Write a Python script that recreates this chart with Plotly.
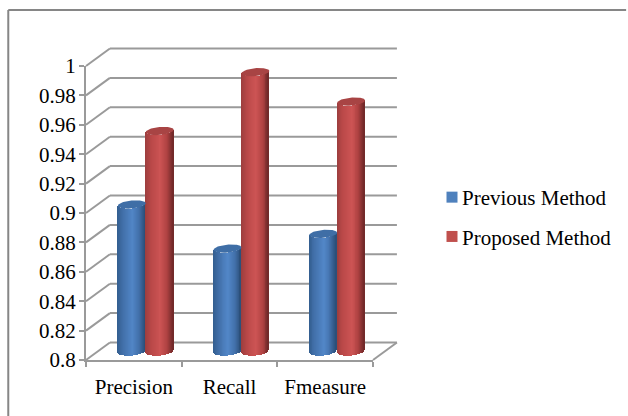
import numpy as np
import plotly.graph_objects as go

categories = ["Precision", "Recall", "Fmeasure"]
previous_method = [0.90, 0.87, 0.88]
proposed_method = [0.95, 0.99, 0.97]
y_ticks = [0.8, 0.82, 0.84, 0.86, 0.88, 0.9, 0.92, 0.94, 0.96, 0.98, 1]
y_labels = ["0.8", "0.82", "0.84", "0.86", "0.88", "0.9", "0.92", "0.94", "0.96", "0.98", "1"]

W, H = 628, 416
L, R, T, B = 86, 374, 66, 360
PX_X = 3 / (R - L)
PX_Y = 0.2 / (B - T)
FONT = "Liberation Serif"
GRID = "#9a9a9a"

depth_x, depth_y = 24 * PX_X, 17.5 * PX_Y
mid_x, mid_y = 0.125, 8.5 * PX_Y
cyl_w = 28 * PX_X
slice_w = 1.5 * PX_X
cap_h = 4 * PX_Y
tilt = 1.2 * PX_Y
n = 29


def shade(stops, t):
    pos = [s[0] for s in stops]
    r = np.interp(t, pos, [s[1][0] for s in stops])
    g = np.interp(t, pos, [s[1][1] for s in stops])
    b = np.interp(t, pos, [s[1][2] for s in stops])
    return f"rgb({r:.0f},{g:.0f},{b:.0f})"


BLUE = [(-1, (52, 95, 145)), (-0.6, (66, 112, 170)), (0.1, (82, 135, 200)), (0.6, (66, 112, 170)), (1, (44, 80, 122))]
RED = [(-1, (158, 62, 62)), (-0.6, (185, 72, 72)), (0.1, (205, 84, 84)), (0.6, (175, 66, 66)), (1, (115, 42, 42))]


def px(x):
    return (x - L) / (R - L)


def py(y):
    return (B - y) / (B - T)


def vx(x):
    return x / 3


def vy(v):
    return (v - y_ticks[0]) / 0.2


fig = go.Figure()

# back wall grid lines, left wall diagonals and floor edge, beneath the cylinders
grid_line = dict(type="line", xref="paper", yref="paper", layer="below", line=dict(color=GRID, width=2))
shapes = []
for v in y_ticks:
    shapes.append(dict(grid_line, x0=vx(0), x1=vx(depth_x), y0=vy(v), y1=vy(v + depth_y)))
    shapes.append(dict(grid_line, x0=vx(depth_x), x1=vx(3 + depth_x), y0=vy(v + depth_y), y1=vy(v + depth_y)))
shapes.append(dict(grid_line, x0=vx(3), x1=vx(3 + depth_x), y0=vy(y_ticks[0]), y1=vy(y_ticks[0] + depth_y)))


def cylinders(values, side, stops, cap_color):
    xs, bases, tops, colors = [], [], [], []
    ts = np.linspace(-1, 1, n)
    for i, v in enumerate(values):
        cx = i + mid_x + 0.5 + side * cyl_w / 2
        for t in ts:
            curve = cap_h * np.sqrt(max(0, 1 - t * t))
            xs.append(cx + t * (cyl_w - slice_w) / 2)
            b = y_ticks[0] + mid_y - curve + t * tilt
            top = v + mid_y - curve + t * tilt
            bases.append(b)
            tops.append(top - b)
            colors.append(shade(stops, t))
    fig.add_trace(go.Bar(
        x=xs, y=tops, base=bases, width=[slice_w] * len(xs),
        marker=dict(color=colors, line=dict(width=0)),
        cliponaxis=False, showlegend=False, hoverinfo="skip"))
    for i, v in enumerate(values):
        cx = i + mid_x + 0.5 + side * cyl_w / 2
        a = np.linspace(0, 2 * np.pi, 60)
        fig.add_trace(go.Scatter(
            x=cx + np.cos(a) * cyl_w / 2,
            y=v + mid_y + np.sin(a) * cap_h + np.cos(a) * tilt,
            mode="lines", fill="toself", fillcolor=cap_color,
            line=dict(width=0, color=cap_color), cliponaxis=False,
            showlegend=False, hoverinfo="skip"))


cylinders(previous_method, -1, BLUE, "#3f6ea6")
cylinders(proposed_method, 1, RED, "#a84444")

# legend entries
for name, col in (("Previous Method", "#4f81bd"), ("Proposed Method", "#c0504d")):
    fig.add_trace(go.Scatter(
        x=[None], y=[None], mode="markers", name=name, legendgroup=name,
        marker=dict(symbol="square", size=11, color=col)))


frame = dict(type="line", xref="paper", yref="paper", line=dict(color="#868686", width=2))
shapes += [
    dict(frame, x0=px(8), x1=px(W), y0=py(10), y1=py(10)),
    dict(frame, x0=px(8), x1=px(8), y0=py(10), y1=py(H)),
]

fig.update_layout(
    width=W, height=H, autosize=False,
    margin=dict(l=L, r=W - R, t=T, b=H - B, pad=0),
    paper_bgcolor="white", plot_bgcolor="rgba(0,0,0,0)",
    barmode="overlay", bargap=0,
    font=dict(family=FONT, size=21, color="black"),
    shapes=shapes,
    showlegend=True,
    legend=dict(x=px(432), y=py(177), xanchor="left", yanchor="top",
                font=dict(family=FONT, size=21), bgcolor="rgba(0,0,0,0)",
                itemwidth=30, tracegroupgap=9, indentation=-10),
    xaxis=dict(range=[0, 3], tickmode="array", tickvals=[0.5, 1.5, 2.5], ticktext=categories,
               ticks="", showgrid=False, zeroline=False, showline=True,
               linecolor=GRID, linewidth=2, ticklabelstandoff=7,
               minor=dict(tickmode="array", tickvals=[0, 1, 2, 3], ticks="outside",
                          ticklen=5, tickwidth=2, tickcolor=GRID, showgrid=False)),
    yaxis=dict(range=[0.8, 1.0], tickmode="array", tickvals=y_ticks, ticktext=y_labels,
               ticks="outside", ticklen=5, tickwidth=2, tickcolor=GRID,
               ticklabelstandoff=-1, showgrid=False, zeroline=False, showline=True,
               linecolor=GRID, linewidth=2),
)

post = """
document.documentElement.style.margin = '0';
document.body.style.margin = '0';
document.querySelectorAll('.legend .legendsymbols').forEach(function (g) {
  g.setAttribute('transform', 'translate(10,0)');
});
"""
fig.write_html("out.html", config=dict(displayModeBar=False), post_script=post)
